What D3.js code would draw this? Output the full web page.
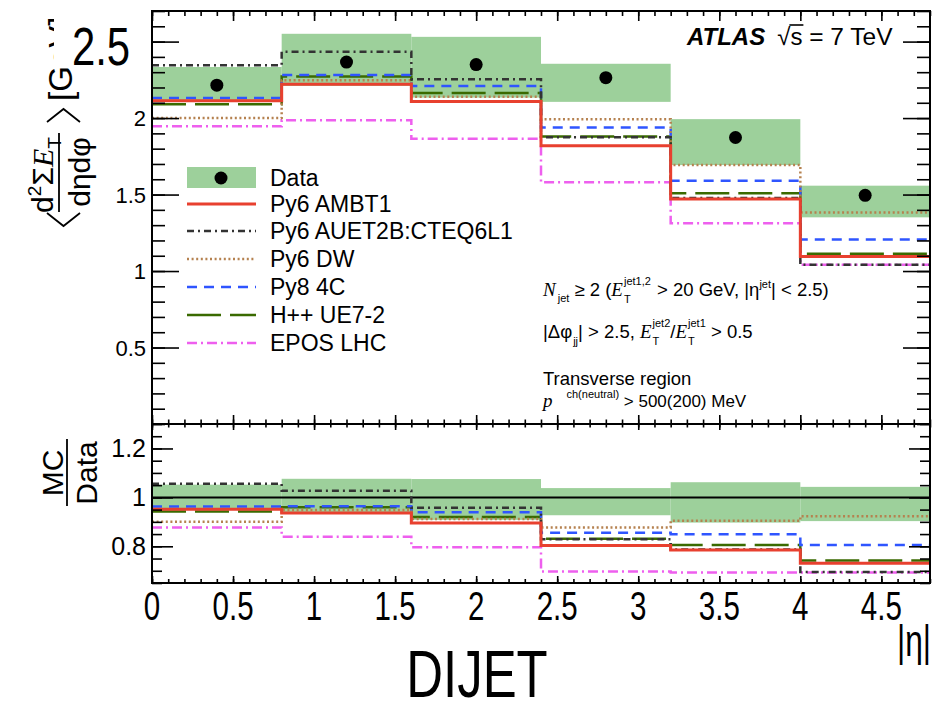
<!DOCTYPE html>
<html>
<head>
<meta charset="utf-8">
<script src="https://cdn.jsdelivr.net/npm/d3@7"></script>
<style>
  html, body { margin: 0; padding: 0; background: #fff; }
  svg { display: block; font-family: "Liberation Sans", Arial, Helvetica, sans-serif; }
  text { white-space: pre; }
</style>
</head>
<body>
<svg id="chart" width="933" height="711"></svg>
<script>
// ---- data: transverse-region sum E_T density vs |eta|, dijet selection ----
const binEdges = [0, 0.8, 1.6, 2.4, 3.2, 4.0, 4.8];

const dataValues = [2.215, 2.366, 2.350, 2.264, 1.873, 1.495];
const dataHigh   = [2.334, 2.551, 2.531, 2.355, 1.993, 1.558];
const dataLow    = [2.106, 2.210, 2.134, 2.106, 1.693, 1.351];

const modelNames = ["Py6 AMBT1", "Py6 AUET2B:CTEQ6L1", "Py6 DW", "Py8 4C", "H++ UE7-2", "EPOS LHC"];

const mainAMBT1  = [2.114, 2.221, 2.108, 1.819, 1.471, 1.095];
const mainAUET2B = [2.346, 2.434, 2.254, 1.875, 1.478, 1.041];
const mainDW     = [2.000, 2.247, 2.139, 1.993, 1.693, 1.382];
const main4C     = [2.132, 2.281, 2.210, 1.938, 1.591, 1.206];
const mainUE72   = [2.090, 2.272, 2.164, 1.880, 1.508, 1.113];
const mainEPOS   = [1.946, 1.985, 1.865, 1.580, 1.312, 1.041];

const ratioHigh  = [1.052, 1.076, 1.075, 1.038, 1.062, 1.043];
const ratioLow   = [0.952, 0.935, 0.908, 0.927, 0.897, 0.903];

const ratioAMBT1  = [0.951, 0.936, 0.895, 0.803, 0.785, 0.731];
const ratioAUET2B = [1.056, 1.027, 0.958, 0.829, 0.787, 0.695];
const ratioDW     = [0.900, 0.948, 0.912, 0.877, 0.904, 0.923];
const ratio4C     = [0.963, 0.964, 0.939, 0.855, 0.849, 0.805];
const ratioUE72   = [0.942, 0.960, 0.920, 0.831, 0.805, 0.742];
const ratioEPOS   = [0.877, 0.839, 0.796, 0.697, 0.693, 0.693];

const xTickValues = [0, 0.5, 1, 1.5, 2, 2.5, 3, 3.5, 4, 4.5];
const xTickLabels = ["0", "0.5", "1", "1.5", "2", "2.5", "3", "3.5", "4", "4.5"];
const mainTickValues = [0.5, 1, 1.5, 2, 2.5];
const mainTickLabels = ["0.5", "1", "1.5", "2"];   // top value is printed as the large callout
const mainCallout = "2.5";
const ratioTickValues = [0.8, 1, 1.2];
const ratioTickLabels = ["0.8", "1", "1.2"];

// ---- styles ----
const modelStyle = {
  "Py6 AMBT1":          { color: "#e8402f", dash: null,          width: 3 },
  "Py6 AUET2B:CTEQ6L1": { color: "#333333", dash: "7,4,2,4",     width: 2.5 },
  "Py6 DW":             { color: "#b5814f", dash: "2,2.6",       width: 2.5 },
  "Py8 4C":             { color: "#2f55ff", dash: "10,7",        width: 2.5 },
  "H++ UE7-2":          { color: "#3a6a00", dash: "34,9",        width: 2.5 },
  "EPOS LHC":           { color: "#ee5fee", dash: "10,4,2,4",    width: 2.5 }
};
const bandColor = "#9dd09b";
const mainModels  = [mainAMBT1, mainAUET2B, mainDW, main4C, mainUE72, mainEPOS];
const ratioModels = [ratioAMBT1, ratioAUET2B, ratioDW, ratio4C, ratioUE72, ratioEPOS];

// ---- layout ----
const left = 152, right = 930, mainTop = 11, mainBottom = 424, ratioBottom = 583;
const svg = d3.select("#chart");

const x = d3.scaleLinear().domain([0, 4.8]).range([left, right]);
const yMain = d3.scaleLinear().domain([0, 2.7]).range([mainBottom, mainTop]);
const yRatio = d3.scaleLinear().domain([0.65, 1.3]).range([ratioBottom, mainBottom]);

const defs = svg.append("defs");
defs.append("clipPath").attr("id", "clipMain").append("rect")
  .attr("x", left).attr("y", mainTop).attr("width", right - left).attr("height", mainBottom - mainTop);
defs.append("clipPath").attr("id", "clipRatio").append("rect")
  .attr("x", left).attr("y", mainBottom).attr("width", right - left).attr("height", ratioBottom - mainBottom);

function stepPoints(values) {
  const pts = values.map((v, i) => [binEdges[i], v]);
  pts.push([binEdges[binEdges.length - 1], values[values.length - 1]]);
  return pts;
}

function drawPanel(clipId, yScale, hi, lo) {
  const g = svg.append("g").attr("clip-path", `url(#${clipId})`);
  // uncertainty band
  g.selectAll("rect.band").data(hi).join("rect").attr("class", "band")
    .attr("x", (d, i) => x(binEdges[i]))
    .attr("width", (d, i) => x(binEdges[i + 1]) - x(binEdges[i]))
    .attr("y", (d, i) => yScale(hi[i]))
    .attr("height", (d, i) => yScale(lo[i]) - yScale(hi[i]))
    .attr("fill", bandColor);
  const line = d3.line().x(d => x(d[0])).y(d => yScale(d[1])).curve(d3.curveStepAfter);
  return { g, line };
}

function drawModels(panel, models) {
  modelNames.slice().reverse().forEach(name => {
    const i = modelNames.indexOf(name);
    const s = modelStyle[name];
    panel.g.append("path").datum(stepPoints(models[i])).attr("d", panel.line)
      .attr("fill", "none").attr("stroke", s.color).attr("stroke-width", s.width)
      .attr("stroke-dasharray", s.dash);
  });
}

// main panel
const mp = drawPanel("clipMain", yMain, dataHigh, dataLow);
drawModels(mp, mainModels);
mp.g.selectAll("circle.data").data(dataValues).join("circle").attr("class", "data")
  .attr("cx", (d, i) => x((binEdges[i] + binEdges[i + 1]) / 2))
  .attr("cy", d => yMain(d)).attr("r", 6.5).attr("fill", "#000");

// ratio panel
const rp = drawPanel("clipRatio", yRatio, ratioHigh, ratioLow);
rp.g.append("line").attr("x1", left).attr("x2", right)
  .attr("y1", yRatio(1)).attr("y2", yRatio(1)).attr("stroke", "#000").attr("stroke-width", 2);
drawModels(rp, ratioModels);

// ---- ticks ----
function tickSet(axisFn, scale, values, size, transform) {
  svg.append("g").attr("transform", transform)
    .call(axisFn(scale).tickValues(values).tickSize(size).tickFormat(""))
    .call(g => g.select(".domain").remove())
    .call(g => g.selectAll("line").attr("stroke", "#000").attr("stroke-width", 1.6));
}
const xMinor = x.ticks(48);
const yMainMinor = yMain.ticks(27);
const yRatioMinor = yRatio.ticks(13);

// main panel
tickSet(d3.axisLeft, yMain, mainTickValues, -27, `translate(${left},0)`);
tickSet(d3.axisLeft, yMain, yMainMinor, -13, `translate(${left},0)`);
tickSet(d3.axisRight, yMain, mainTickValues, -27, `translate(${right},0)`);
tickSet(d3.axisRight, yMain, yMainMinor, -13, `translate(${right},0)`);
tickSet(d3.axisTop, x, xTickValues, -10, `translate(0,${mainTop})`);
tickSet(d3.axisTop, x, xMinor, -5, `translate(0,${mainTop})`);
tickSet(d3.axisBottom, x, xTickValues, -9, `translate(0,${mainBottom})`);
tickSet(d3.axisBottom, x, xMinor, -4.5, `translate(0,${mainBottom})`);
// ratio panel
tickSet(d3.axisLeft, yRatio, ratioTickValues, -21, `translate(${left},0)`);
tickSet(d3.axisLeft, yRatio, yRatioMinor, -10, `translate(${left},0)`);
tickSet(d3.axisRight, yRatio, ratioTickValues, -21, `translate(${right},0)`);
tickSet(d3.axisRight, yRatio, yRatioMinor, -10, `translate(${right},0)`);
tickSet(d3.axisTop, x, xTickValues, -6, `translate(0,${mainBottom})`);
tickSet(d3.axisTop, x, xMinor, -3.5, `translate(0,${mainBottom})`);
tickSet(d3.axisBottom, x, xTickValues, -7, `translate(0,${ratioBottom})`);
tickSet(d3.axisBottom, x, xMinor, -4, `translate(0,${ratioBottom})`);

// frames
svg.append("rect").attr("x", left).attr("y", mainTop).attr("width", right - left)
  .attr("height", mainBottom - mainTop).attr("fill", "none").attr("stroke", "#000").attr("stroke-width", 2);
svg.append("rect").attr("x", left).attr("y", mainBottom).attr("width", right - left)
  .attr("height", ratioBottom - mainBottom).attr("fill", "none").attr("stroke", "#000").attr("stroke-width", 2);

// ---- tick labels ----
svg.append("g").selectAll("text").data(mainTickLabels).join("text")
  .attr("x", 146).attr("y", (d, i) => yMain(mainTickValues[i]) + 8).attr("text-anchor", "end")
  .style("font-size", "22px").text(d => d);
svg.append("g").selectAll("text").data(ratioTickValues).join("text")
  .attr("x", 146).attr("y", d => yRatio(d) + 9).attr("text-anchor", "end")
  .style("font-size", "25px").text((d, i) => ratioTickLabels[i]);
svg.append("g").selectAll("text").data(xTickValues).join("text")
  .attr("transform", d => `translate(${x(d)},620) scale(0.72,1)`)
  .attr("text-anchor", "middle").style("font-size", "41px").text((d, i) => xTickLabels[i]);

// |eta| axis title
svg.append("text").attr("transform", "translate(931,656) scale(0.72,1)")
  .attr("text-anchor", "end").style("font-size", "44px").text("|η|");

// ---- rich text helper (sub/superscripts) ----
function richText(parent, x0, y0, parts) {
  const g = parent.append("g").attr("transform", `translate(${x0},${y0})`);
  let cx = 0, stackStart = 0, stackMax = 0;
  const placed = [];
  parts.forEach(p => {
    const t = g.append("text").attr("y", p.dy || 0)
      .style("font-size", p.size + "px")
      .attr("fill", "#000")
      .text(p.t);
    if (p.serif) t.style("font-family", '"Liberation Serif", "Times New Roman", serif');
    if (p.italic) t.style("font-style", "italic");
    if (p.bold) t.style("font-weight", "bold");
    const w = t.node().getComputedTextLength();
    let px;
    if (p.stack) {
      px = stackStart;
      stackMax = Math.max(stackMax, w);
      cx = stackStart + stackMax;
    } else {
      px = cx + (p.dx || 0);
      stackStart = px; stackMax = w; cx = px + w;
    }
    t.attr("x", px);
    placed.push({ x: px, w });
  });
  return placed;
}

// ATLAS label
const atlas = richText(svg, 687, 45, [
  { t: "ATLAS", size: 24, bold: true, italic: true },
  { t: "√", size: 24, dx: 12 },
  { t: "s", size: 24 },
  { t: " = 7 TeV", size: 24.5 }
]);
svg.append("line").attr("x1", 687 + atlas[2].x - 1).attr("x2", 687 + atlas[2].x + atlas[2].w + 1)
  .attr("y1", 45 - 20).attr("y2", 45 - 20).attr("stroke", "#000").attr("stroke-width", 1.6);

// selection text
const fs = 18.5, ss = 11;
richText(svg, 543, 296, [
  { t: "N", size: 19, serif: true, italic: true },
  { t: "jet", size: ss, dy: 6, dx: 2 },
  { t: " ≥ 2 (", size: fs },
  { t: "E", size: 19, serif: true, italic: true },
  { t: "T", size: ss, dy: 7, dx: 1 },
  { t: "jet1,2", size: ss, dy: -11, stack: true },
  { t: " > 20 GeV, |η", size: fs, dx: 1 },
  { t: "jet", size: ss, dy: -8 },
  { t: "| < 2.5)", size: fs }
]);
richText(svg, 543, 338, [
  { t: "|Δφ", size: fs },
  { t: "jj", size: ss, dy: 7, dx: 1 },
  { t: "| > 2.5, ", size: fs },
  { t: "E", size: 19, serif: true, italic: true },
  { t: "T", size: ss, dy: 7, dx: 1 },
  { t: "jet2", size: ss, dy: -11, stack: true },
  { t: "/", size: fs },
  { t: "E", size: 19, serif: true, italic: true },
  { t: "T", size: ss, dy: 7, dx: 1 },
  { t: "jet1", size: ss, dy: -11, stack: true },
  { t: " > 0.5", size: fs }
]);
richText(svg, 543, 385, [{ t: "Transverse region", size: fs }]);
richText(svg, 543, 407, [
  { t: "p", size: 19, serif: true, italic: true },
  { t: "ch(neutral)", size: ss, dy: -9, dx: 14 },
  { t: " > 500(200) MeV", size: 17 }
]);

// ---- legend ----
const legendRows = [178, 204, 231, 259, 287, 315, 343];
const legend = svg.append("g");
legend.append("rect").attr("x", 187).attr("y", legendRows[0] - 11).attr("width", 69).attr("height", 21)
  .attr("fill", bandColor);
legend.append("circle").attr("cx", 221).attr("cy", legendRows[0]).attr("r", 6.5).attr("fill", "#000");
legend.append("text").attr("x", 270).attr("y", legendRows[0] + 8).style("font-size", "23px").text("Data");
modelNames.forEach((name, i) => {
  const s = modelStyle[name];
  const yy = legendRows[i + 1];
  legend.append("line").attr("x1", 187).attr("x2", 256).attr("y1", yy).attr("y2", yy)
    .attr("stroke", s.color).attr("stroke-width", s.width).attr("stroke-dasharray", s.dash);
  legend.append("text").attr("x", 270).attr("y", yy + 8).style("font-size", "23px").text(name);
});

// ---- y-axis titles (rotated) ----
// main: < d^2 Sum E_T / d eta d phi > [GeV]
const yt = svg.append("g").attr("transform", "translate(0,230) rotate(-90)");
yt.append("path").attr("d", "M17,47 L4,63.5 L17,80").attr("fill", "none").attr("stroke", "#000").attr("stroke-width", 1.8);
yt.append("path").attr("d", "M108,47 L121,63.5 L108,80").attr("fill", "none").attr("stroke", "#000").attr("stroke-width", 1.8);
yt.append("line").attr("x1", 18).attr("x2", 97).attr("y1", 59).attr("y2", 59).attr("stroke", "#000").attr("stroke-width", 1.8);
const num = yt.append("text").attr("x", 55).attr("y", 53).attr("text-anchor", "middle").style("font-size", "30px");
num.append("tspan").text("d");
num.append("tspan").attr("dy", -12).style("font-size", "19px").text("2");
num.append("tspan").attr("dy", 12).text("Σ");
num.append("tspan").style("font-family", '"Liberation Serif", "Times New Roman", serif').style("font-style", "italic").text("E");
num.append("tspan").attr("dy", 8).style("font-size", "19px").text("T");
yt.append("text").attr("x", 58).attr("y", 90).attr("text-anchor", "middle").style("font-size", "30px").text("dηdφ");
yt.append("text").attr("x", 129).attr("y", 72).style("font-size", "33px").text("[GeV]");

// ratio: MC / Data
const rt = svg.append("g").attr("transform", "translate(0,473) rotate(-90)");
rt.append("text").attr("x", 0).attr("y", 63).attr("text-anchor", "middle").style("font-size", "30px").text("MC");
rt.append("line").attr("x1", -33).attr("x2", 34).attr("y1", 67).attr("y2", 67).attr("stroke", "#000").attr("stroke-width", 1.8);
rt.append("text").attr("x", 0).attr("y", 97).attr("text-anchor", "middle").style("font-size", "30px").text("Data");

// ---- enlarged top value and caption ----
svg.append("rect").attr("x", 54).attr("y", 0).attr("width", 96).attr("height", 67).attr("fill", "#fff");
svg.append("text").attr("transform", "translate(101,65) scale(0.79,1)").attr("text-anchor", "middle")
  .style("font-size", "53px").text(mainCallout);
svg.append("text").attr("transform", "translate(477,696.5) scale(0.76,1)").attr("text-anchor", "middle")
  .style("font-size", "67px").text("DIJET");
</script>
</body>
</html>
